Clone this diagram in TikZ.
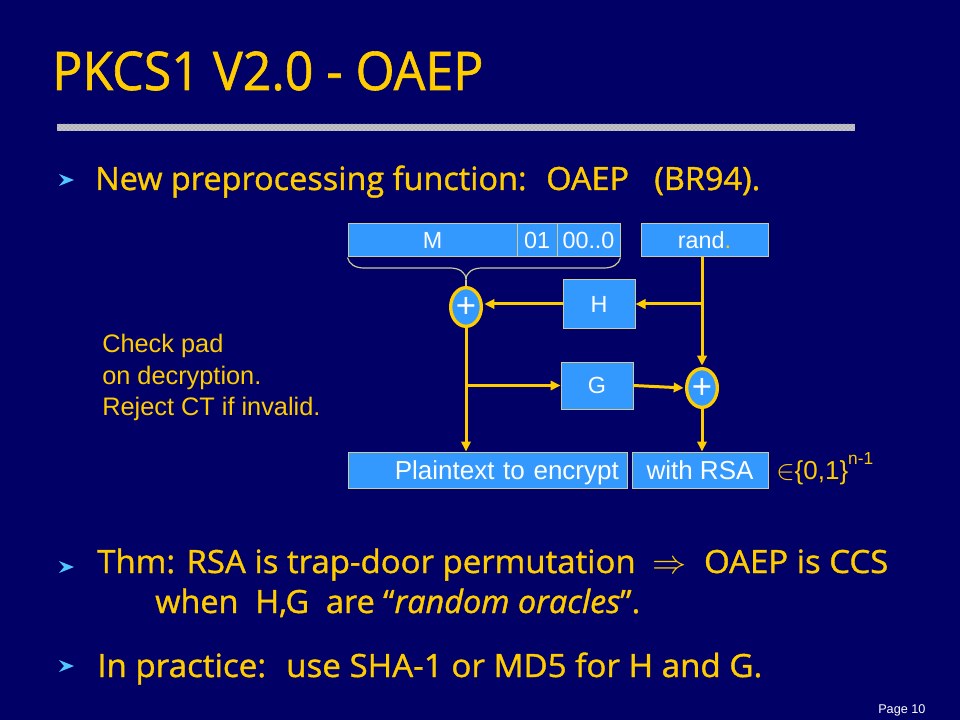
\documentclass[tikz,border=0pt]{standalone}
\usepackage{fontspec}
\usepackage{graphicx}
\setmainfont{Open Sans}[FakeBold=1.2]
\newfontfamily\diagfont{Liberation Sans}
\usetikzlibrary{shapes.geometric,arrows.meta,patterns}
\definecolor{bgnavy}{RGB}{0,0,102}
\definecolor{ttlyellow}{RGB}{255,204,0}
\definecolor{boxblue}{RGB}{51,153,255}
\definecolor{boxline}{RGB}{204,204,153}
\definecolor{arrowc}{RGB}{255,204,0}
\definecolor{bulletc}{RGB}{80,200,255}
\definecolor{barc}{RGB}{195,195,200}
\definecolor{bardark}{RGB}{130,130,140}
\newcommand{\fitw}[2]{\resizebox{#1}{\height}{#2}}
\begin{document}
\begin{tikzpicture}[x=0.75pt,y=-0.75pt,
  txt/.style={anchor=base west, inner sep=0pt, text=ttlyellow},
  box/.style={draw=boxline, line width=0.75pt, fill=boxblue, inner sep=0pt, text=white,
    font=\diagfont\fontsize{17.5}{17.5}\selectfont, text height=12.5pt, text depth=0pt, minimum height=24.75pt},
  bigbox/.style={box, font=\diagfont\fontsize{19.5}{19.5}\selectfont, text height=14pt, minimum height=27pt},
  xorc/.style={ellipse, draw=arrowc, line width=2.5pt, fill=boxblue, minimum width=23pt, minimum height=29pt,
    inner sep=0pt, text=white, font=\diagfont\fontsize{26}{26}\selectfont},
  arr/.style={draw=arrowc, line width=2.25pt, -{Triangle[length=7.5pt,width=7pt]}},
  chk/.style={anchor=base west, inner sep=0pt, text=ttlyellow, font=\diagfont\fontsize{19}{19}\selectfont}
]
\useasboundingbox (0,0) rectangle (960,720);
\fill[bgnavy] (0,0) rectangle (960,720);

% title and separator
\node[txt, font=\fontsize{40}{40}\selectfont] (title) at (52,90) {\fitw{323.25pt}{PKCS1 V2.0 - OAEP}};
\fill[barc] (57,124) rectangle (855,131);
\fill[pattern=crosshatch dots, pattern color=bardark] (57,124) rectangle (855,131);

% bullets
\fill[bulletc] (59,174) -- (74,180) -- (59,186) -- (64,180) -- cycle;
\fill[bulletc] (59,561) -- (74,567) -- (59,573) -- (64,567) -- cycle;
\fill[bulletc] (59,660) -- (74,666) -- (59,672) -- (64,666) -- cycle;

\node[txt, font=\fontsize{24}{24}\selectfont] (l1) at (95,190) {\fitw{498.75pt}{New preprocessing function:~ OAEP~~ (BR94).}};
\node[txt, font=\fontsize{24}{24}\selectfont] (l2) at (97,573) {\fitw{593.25pt}{Thm: RSA is trap-door permutation~ $\Rightarrow$~ OAEP is CCS}};
\node[txt, font=\fontsize{24}{24}\selectfont] (l3) at (155,613) {\fitw{363.75pt}{when~ H,G~ are “\textit{random oracles}”.}};
\node[txt, font=\fontsize{24}{24}\selectfont] (l4) at (97,677) {\fitw{498.75pt}{In practice:~ use SHA-1 or MD5 for H and G.}};

% check pad note
\node[chk] (k1) at (102,352) {Check pad};
\node[chk] (k2) at (102,384) {on decryption.};
\node[chk] (k3) at (102,415) {Reject CT if invalid.};

% diagram boxes
\node[box, minimum width=126.75pt] (M) at (432.5,240.5) {M};
\node[box, minimum width=30pt] (b01) at (537,240.5) {01};
\node[box, minimum width=47.25pt] (b00) at (588.5,240.5) {00..0};
\node[box, minimum width=95.25pt] (rand) at (704.5,240.5) {rand\textcolor{ttlyellow}{.}};
\node[box, minimum width=54pt, minimum height=36pt] (H) at (599,304) {H};
\node[box, minimum width=54pt, minimum height=35.25pt] (G) at (597,385.5) {G};
\node[xorc] (c1) at (466,307) {+};
\node[xorc] (c2) at (702,388) {+};
\node[bigbox, minimum width=209.25pt, text width=197pt, align=right] (PT) at (487.5,470) {Plaintext to encrypt};
\node[bigbox, minimum width=102pt] (RSA) at (700,470) {with RSA};

% brace
\coordinate (bt) at (466,280);
\draw[boxline, line width=0.9pt] (M.south west) .. controls (349,264) and (355,268) .. (364,268)
  -- (450,268) .. controls (459,268) and (466,272) .. (bt)
  .. controls (466,272) and (473,268) .. (482,268) -- (604,268)
  .. controls (613,268) and (619,264) .. (b00.south east);
\draw[boxline, line width=0.9pt] (bt) -- (c1.north);

% connectors
\coordinate (rj) at (rand.south -| c2.north);
\draw[arr, shorten >=1pt] (rj) -- (c2.north);
\draw[arr] (c2 |- H.east) -- (H.east);
\draw[arr, shorten >=1pt] (H.west) -- (H.west -| c1.east);
\draw[arr] (c1.south) -- (c1 |- PT.north);
\draw[arr] (c1 |- G.west) -- (G.west);
\draw[arr, shorten >=1pt] (G.east) -- (c2.west);
\draw[arr] (c2.south) -- (c2 |- RSA.north);

% set label
\node[anchor=base west, inner sep=0pt, text=ttlyellow, font=\diagfont\fontsize{19.5}{19.5}\selectfont] (el) at (776,479)
  {$\in$\{0,1\}\raisebox{11pt}{\fontsize{13}{13}\selectfont n-1}};

% page number
\node[anchor=base west, inner sep=0pt, text=white, font=\diagfont\fontsize{9.5}{9.5}\selectfont] (pg) at (878,713) {Page 10};
\end{tikzpicture}
\end{document}
